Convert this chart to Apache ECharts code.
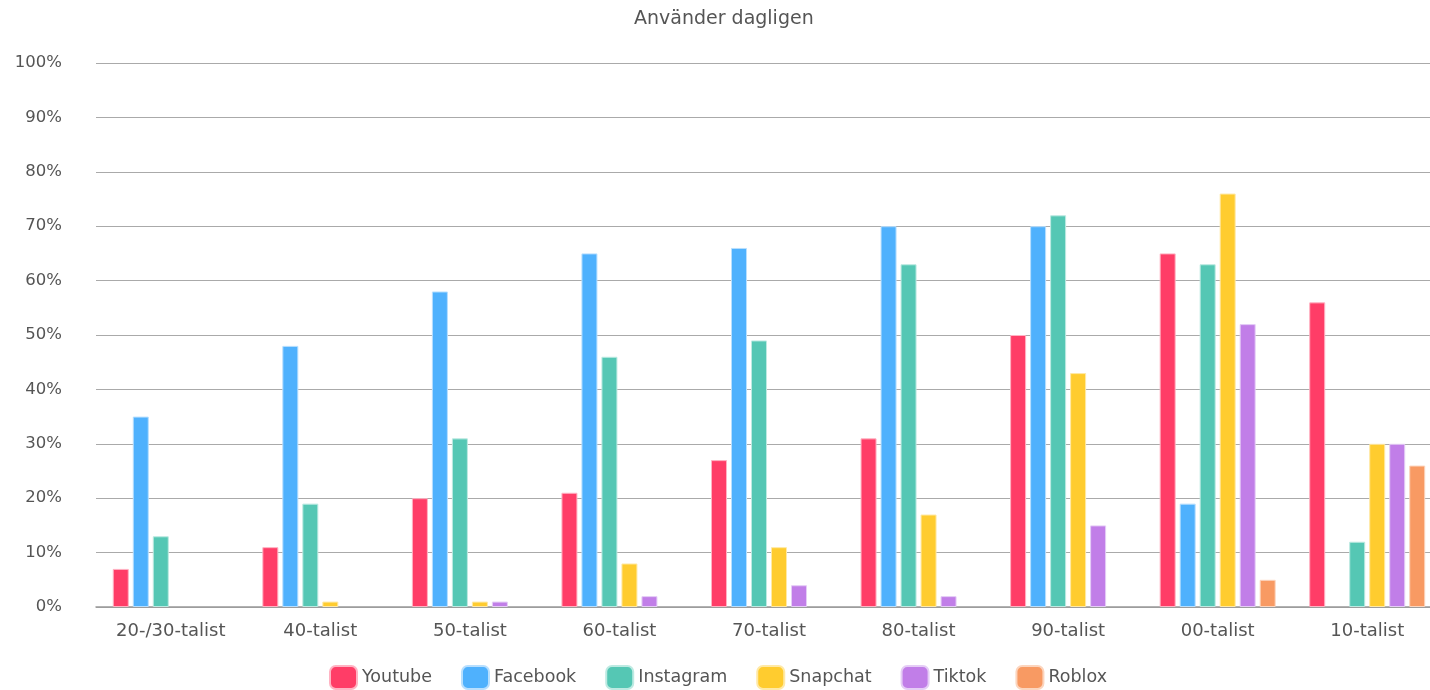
<!DOCTYPE html>
<html><head><meta charset="utf-8">
<script src="https://cdn.jsdelivr.net/npm/echarts@6/dist/echarts.min.js"></script>
<style>html,body{margin:0;padding:0;background:#fff;overflow:hidden;width:1430px;height:690px}#c{width:1446px;height:690px}</style>
</head><body><div id="c"></div>
<script>
const categories = ['20-/30-talist','40-talist','50-talist','60-talist','70-talist','80-talist','90-talist','00-talist','10-talist'];
const youtube   = [7, 11, 20, 21, 27, 31, 50, 65, 56];
const facebook  = [35, 48, 58, 65, 66, 70, 70, 19, 0];
const instagram = [13, 19, 31, 46, 49, 63, 72, 63, 12];
const snapchat  = [0, 1, 1, 8, 11, 17, 43, 76, 30];
const tiktok    = [0, 0, 1, 2, 4, 2, 15, 52, 30];
const roblox    = [0, 0, 0, 0, 0, 0, 0, 5, 26];
const yTicks = [0,10,20,30,40,50,60,70,80,90,100];

const seriesDefs = [
  ['Youtube', youtube, '#ff3d67', '#ffb3c3'],
  ['Facebook', facebook, '#4fb1fd', '#b8dffe'],
  ['Instagram', instagram, '#55c7b4', '#bdeae2'],
  ['Snapchat', snapchat, '#ffcc2f', '#ffe9a6'],
  ['Tiktok', tiktok, '#c17ee8', '#e5cdf6'],
  ['Roblox', roblox, '#f89a63', '#fcd5be']
];
const font = 'DejaVu Sans';
const chart = echarts.init(document.getElementById('c'));
chart.setOption({
  animation: false,
  textStyle: {fontFamily: font},
  title: {text: 'Använder dagligen', left: 629, top: 5,
    textStyle: {fontFamily: font, fontSize: 19, fontWeight: 'normal', color: '#555'}},
  legend: {top: 660, left: 324, icon: 'roundRect', itemWidth: 27, itemHeight: 23, itemGap: 29,
    textStyle: {fontFamily: font, fontSize: 17.5, color: '#555'},
    data: seriesDefs.map(s => s[0])},
  grid: {left: 96, top: 63, right: 4, bottom: 83, containLabel: false},
  xAxis: {type: 'category', data: categories,
    axisTick: {show: false},
    axisLine: {lineStyle: {color: '#999', width: 1.5}},
    axisLabel: {fontFamily: font, fontSize: 18, color: '#555', margin: 15}},
  yAxis: {type: 'value', min: 0, max: 100, interval: 10,
    axisLabel: {formatter: v => yTicks.includes(v) ? v + '%' : '', fontFamily: font, fontSize: 16.5, color: '#555', margin: 34},
    splitLine: {lineStyle: {color: '#aaa', width: 1.2}},
    axisLine: {show: false}, axisTick: {show: false}},
  series: seriesDefs.map(s => ({
    name: s[0], type: 'bar', data: s[1].map(v => v === 0 ? null : v), barWidth: 16, barGap: '25%',
    itemStyle: {color: s[2], borderColor: s[3], borderWidth: 1}
  }))
});
</script></body></html>
